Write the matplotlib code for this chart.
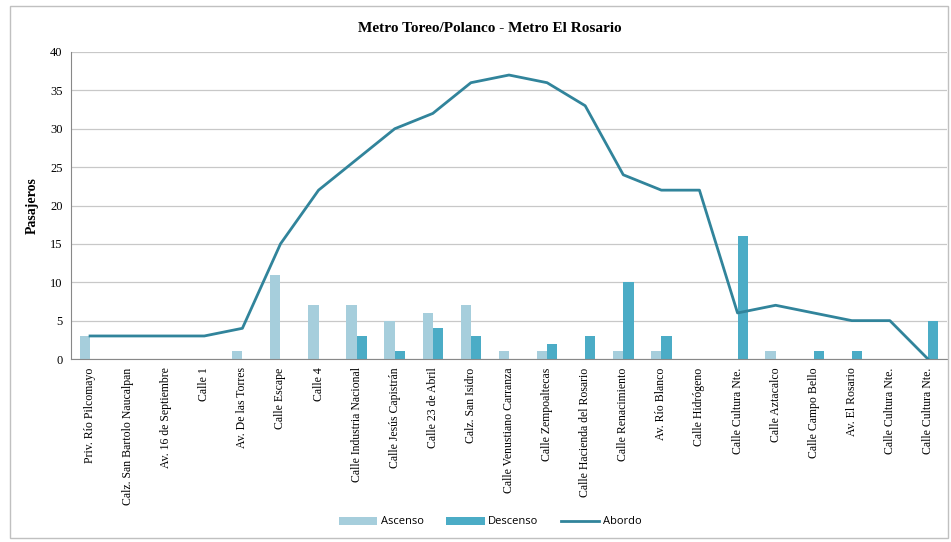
import numpy as np
import matplotlib.pyplot as plt
from matplotlib.patches import Rectangle

# --- Data --- #
paradas = [
    "Priv. Río Pilcomayo", "Calz. San Bartolo Naucalpan", "Av. 16 de Septiembre",
    "Calle 1", "Av. De las Torres", "Calle Escape", "Calle 4",
    "Calle Industria Nacional", "Calle Jesús Capistrán", "Calle 23 de Abril",
    "Calz. San Isidro", "Calle Venustiano Carranza", "Calle Zempoaltecas",
    "Calle Hacienda del Rosario", "Calle Renacimiento", "Av. Río Blanco",
    "Calle Hidrógeno", "Calle Cultura Nte.", "Calle Aztacalco",
    "Calle Campo Bello", "Av. El Rosario", "Calle Cultura Nte.", "Calle Cultura Nte.",
]
ascenso = [3, 0, 0, 0, 1, 11, 7, 7, 5, 6, 7, 1, 1, 0, 1, 1, 0, 0, 1, 0, 0, 0, 0]
descenso = [0, 0, 0, 0, 0, 0, 0, 3, 1, 4, 3, 0, 2, 3, 10, 3, 0, 16, 0, 1, 1, 0, 5]
abordo = [3, 3, 3, 3, 4, 15, 22, 26, 30, 32, 36, 37, 36, 33, 24, 22, 22, 6, 7, 6, 5, 5, 0]

serif = "Liberation Serif"

fig = plt.figure(figsize=(9.51, 5.42), dpi=100)
ax = fig.add_axes([71 / 951, 1 - 359 / 542, (947 - 71) / 951, (359 - 52) / 542])

x = np.arange(len(paradas))
w = 0.27
b1 = ax.bar(x - w / 2, ascenso, width=w, color="#a6cedc", label="Ascenso", zorder=2)
b2 = ax.bar(x + w / 2, descenso, width=w, color="#4bacc6", label="Descenso", zorder=2)
l1, = ax.plot(x, abordo, color="#31849b", linewidth=2, label="Abordo", zorder=3)

ax.set_xlim(-0.5, len(paradas) - 0.5)
ax.set_ylim(0, 40)
ax.set_yticks(range(0, 41, 5))
ax.set_xticks(x)
ax.set_xticklabels(paradas, rotation=90, fontfamily=serif, fontsize=8.5)
for lbl in ax.get_yticklabels():
    lbl.set_fontfamily(serif)
    lbl.set_fontsize(9)
ax.tick_params(length=0, pad=6)
ax.grid(axis="y", color="#c8c8c8", linewidth=0.9, zorder=0)
for s in ["top", "right"]:
    ax.spines[s].set_visible(False)
for s in ["left", "bottom"]:
    ax.spines[s].set_color("#888888")

ax.set_ylabel("Pasajeros", fontfamily=serif, fontweight="bold", fontsize=10, labelpad=8)
fig.text(490 / 951, 1 - 28 / 542, "Metro Toreo/Polanco - Metro El Rosario",
         ha="center", va="center", fontfamily=serif, fontweight="bold", fontsize=11)

fig.legend([b1, b2, l1], ["Ascenso", "Descenso", "Abordo"],
           loc="center", bbox_to_anchor=(490 / 951, 1 - 522 / 542), ncol=3,
           frameon=False, handlelength=3.5, columnspacing=2,
           handletextpad=0.3, prop={"family": "Open Sans", "size": 8})

# marco exterior
fig.patches.append(Rectangle((10 / 951, 4 / 542), 938 / 951, 532 / 542,
                             transform=fig.transFigure, fill=False,
                             edgecolor="#c0c0c0", linewidth=1))

fig.savefig("out.png", dpi=100)
